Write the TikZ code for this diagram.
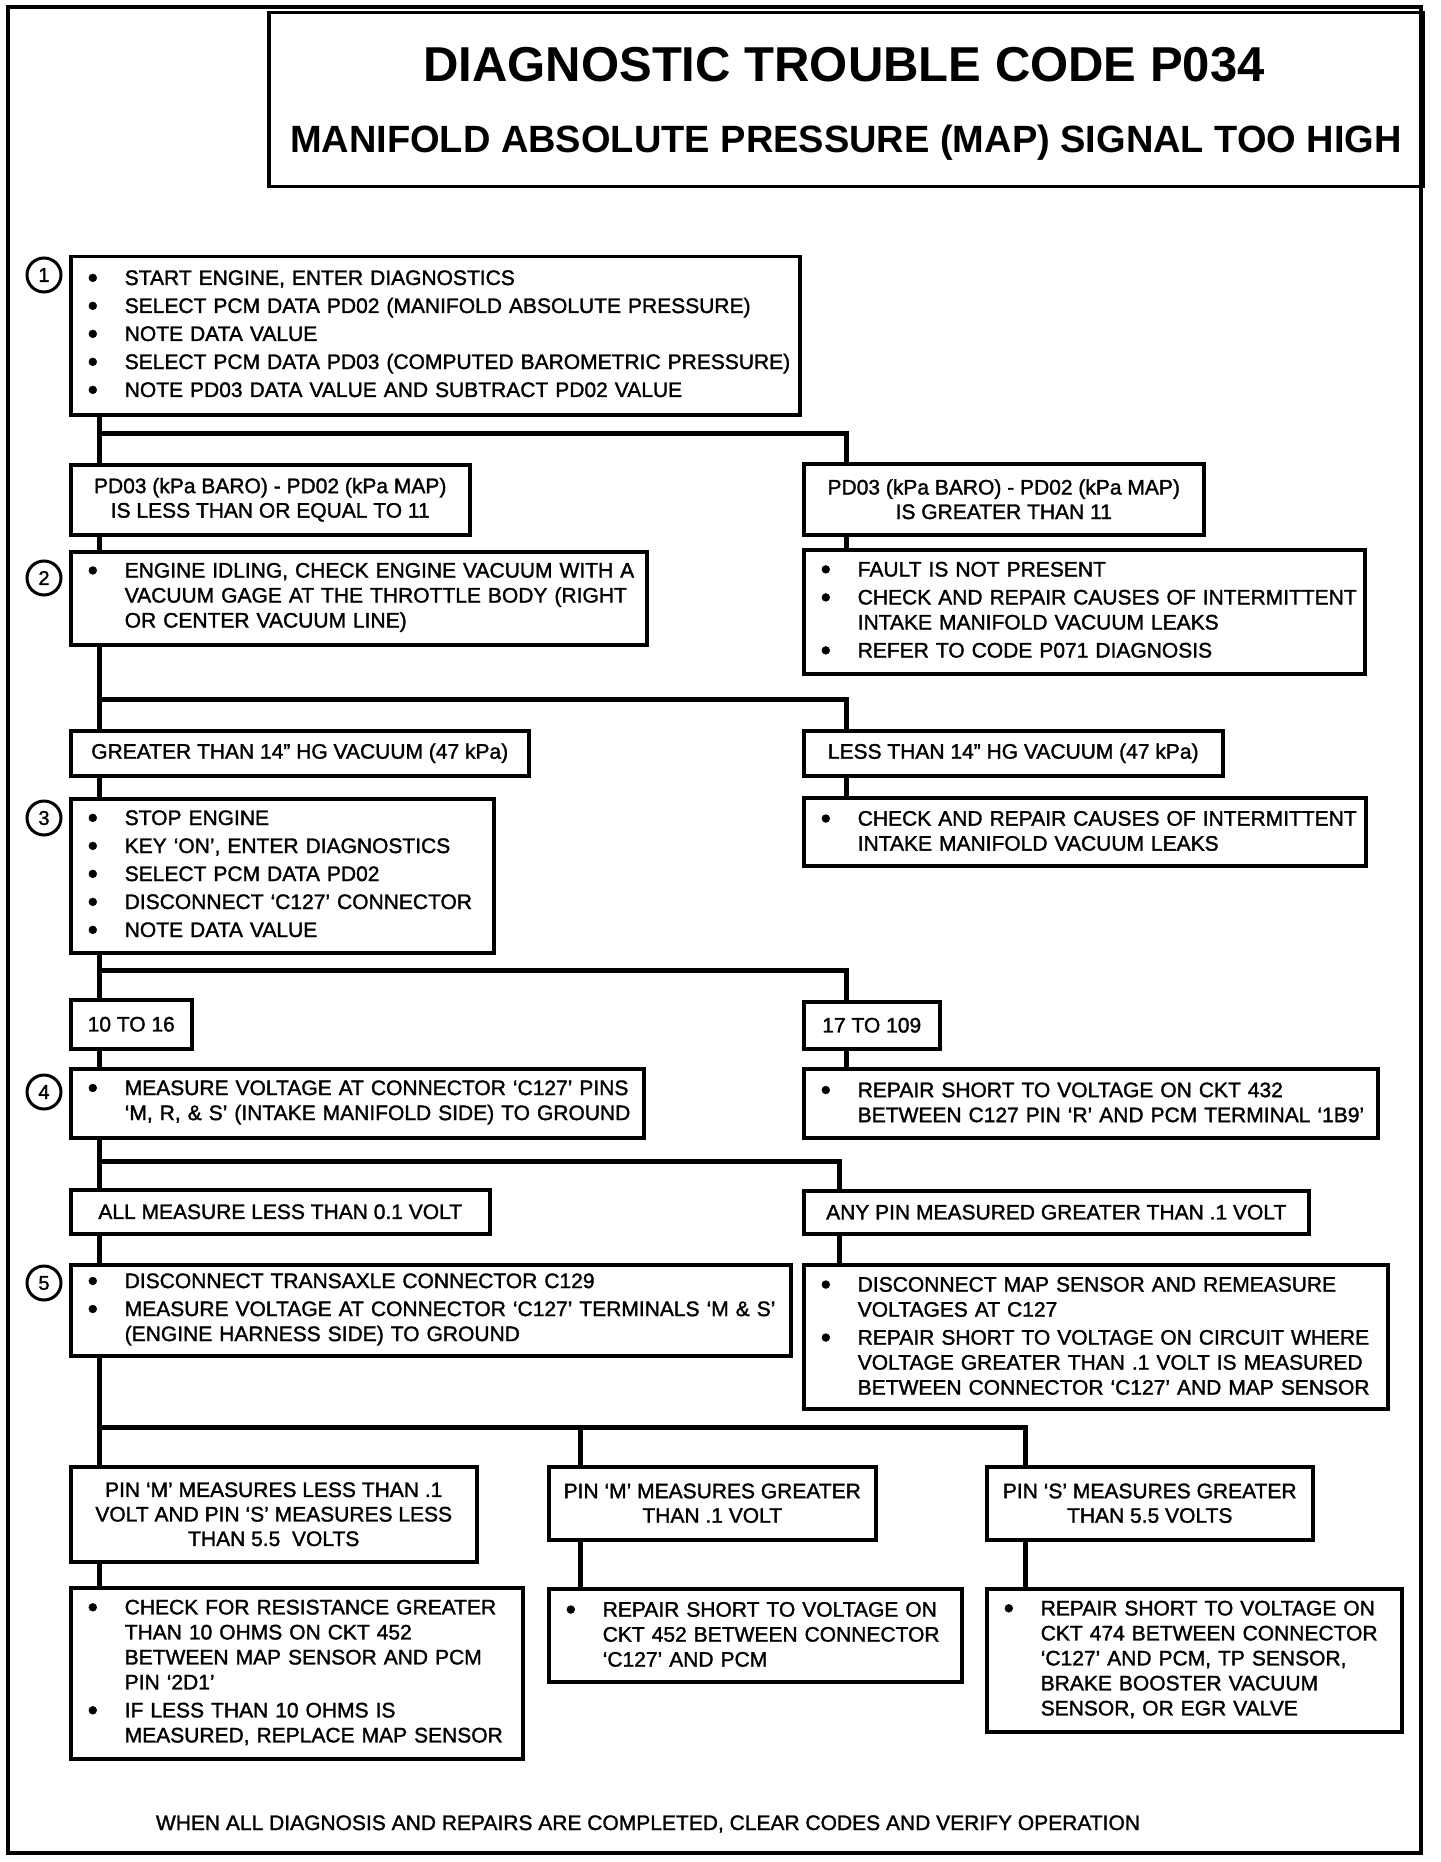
\documentclass[tikz,border=0pt]{standalone}
\usepackage{fontspec}
\setmainfont{Liberation Sans}[Ligatures=TeX]
\newfontfamily\bodyf{Liberation Sans}[Ligatures=TeX,FakeBold=1.5]
\newcommand{\bul}{\raisebox{-2.5pt}{\fontsize{29}{24}\selectfont\textbullet}}
\newcommand{\itm}[1]{\par\parskip=3pt\noindent\makebox[37pt][l]{\bul}\mbox{#1}}
\newcommand{\itl}[1]{\par\parskip=0pt\noindent\hspace*{37pt}\mbox{#1}}
\newcommand{\fin}{\endgraf\kern15pt}

\begin{document}
\begin{tikzpicture}[x=1pt,y=-1pt]%
  \tikzstyle{stepn}=[draw,line width=3.5pt,anchor=north west,inner xsep=17pt,inner ysep=-6pt,align=left,font=\bodyf\fontsize{21}{25}\selectfont,execute at end node=\fin]
  \tikzstyle{condn}=[draw,line width=3.5pt,anchor=north west,inner sep=0pt,align=center,font=\bodyf\fontsize{21}{24.5}\selectfont]
  \tikzstyle{cirn}=[circle,draw,line width=3pt,minimum size=34pt,inner sep=0pt,font=\bodyf\fontsize{20}{20}\selectfont]
  \tikzstyle{linen}=[line width=5pt]
  \useasboundingbox (0,0) rectangle (1440,1862);
  \draw[line width=3.5pt] (8,7) rectangle (1421,1853);
  % heading
  \node(title)[draw,line width=3.5pt,anchor=north west,minimum width=1154pt,minimum height=174pt] at (267,11) {};
  \node(hd1)[anchor=base,font=\fontsize{49}{49}\bfseries] at (844,82) {DIAGNOSTIC TROUBLE CODE P034};
  \node(hd2)[anchor=base,font=\fontsize{38}{38}\bfseries] at (846,153) {MANIFOLD ABSOLUTE PRESSURE (MAP) SIGNAL TOO HIGH};
  % step numbers
  \node(c1)[cirn] at (44,275) {1};
  \node(c2)[cirn] at (44,578) {2};
  \node(c3)[cirn] at (44,818) {3};
  \node(c4)[cirn] at (44,1092) {4};
  \node(c5)[cirn] at (44,1283) {5};
  % left column
  \node(s1)[stepn,minimum width=729pt,minimum height=158pt,text width=695pt] at (69,255) {%
    \itm{START ENGINE, ENTER DIAGNOSTICS}
    \itm{SELECT PCM DATA PD02 (MANIFOLD ABSOLUTE PRESSURE)}
    \itm{NOTE DATA VALUE}
    \itm{SELECT PCM DATA PD03 (COMPUTED BAROMETRIC PRESSURE)}
    \itm{NOTE PD03 DATA VALUE AND SUBTRACT PD02 VALUE}};
  \node(le11)[condn,minimum width=399pt,minimum height=70pt] at (69,463) {PD03 (kPa BARO) - PD02 (kPa MAP)\\IS LESS THAN OR EQUAL TO 11};
  \node(s2)[stepn,minimum width=576pt,minimum height=93pt,text width=542pt] at (69,550) {%
    \itm{ENGINE IDLING, CHECK ENGINE VACUUM WITH A}
    \itl{VACUUM GAGE AT THE THROTTLE BODY (RIGHT}
    \itl{OR CENTER VACUUM LINE)}};
  \node(hgG)[condn,minimum width=458pt,minimum height=45pt] at (69,729) {GREATER THAN 14'' HG VACUUM (47 kPa)};
  \node(s3)[stepn,minimum width=423pt,minimum height=154pt,text width=389pt] at (69,797) {%
    \itm{STOP ENGINE}
    \itm{KEY `ON', ENTER DIAGNOSTICS}
    \itm{SELECT PCM DATA PD02}
    \itm{DISCONNECT `C127' CONNECTOR}
    \itm{NOTE DATA VALUE}};
  \node(r1016)[condn,minimum width=121pt,minimum height=49pt] at (69,998) {10 TO 16};
  \node(s4)[stepn,minimum width=573pt,minimum height=69pt,text width=539pt] at (69,1067) {%
    \itm{MEASURE VOLTAGE AT CONNECTOR `C127' PINS}
    \itl{`M, R, \& S' (INTAKE MANIFOLD SIDE) TO GROUND}};
  \node(allL)[condn,minimum width=419pt,minimum height=44pt] at (69,1188) {ALL MEASURE LESS THAN 0.1 VOLT};
  \node(s5)[stepn,minimum width=720pt,minimum height=91pt,text width=686pt] at (69,1263) {%
    \itm{DISCONNECT TRANSAXLE CONNECTOR C129}
    \itm{MEASURE VOLTAGE AT CONNECTOR `C127' TERMINALS `M \& S'}
    \itl{(ENGINE HARNESS SIDE) TO GROUND}};
  % right column
  \node(gt11)[condn,minimum width=400pt,minimum height=71pt] at (802,462) {PD03 (kPa BARO) - PD02 (kPa MAP)\\IS GREATER THAN 11};
  \node(fault)[stepn,minimum width=561pt,minimum height=124pt,text width=527pt] at (802,548) {%
    \itm{FAULT IS NOT PRESENT}
    \itm{CHECK AND REPAIR CAUSES OF INTERMITTENT}
    \itl{INTAKE MANIFOLD VACUUM LEAKS}
    \itm{REFER TO CODE P071 DIAGNOSIS}};
  \node(hgL)[condn,minimum width=419pt,minimum height=45pt] at (802,729) {LESS THAN 14'' HG VACUUM (47 kPa)};
  \node(leaks)[stepn,minimum width=562pt,minimum height=68pt,text width=528pt] at (802,796) {%
    \itm{CHECK AND REPAIR CAUSES OF INTERMITTENT}
    \itl{INTAKE MANIFOLD VACUUM LEAKS}};
  \node(r17109)[condn,minimum width=136pt,minimum height=47pt] at (802,1000) {17 TO 109};
  \node(ckt432)[stepn,minimum width=574pt,minimum height=69pt,text width=540pt] at (802,1067) {%
    \itm{REPAIR SHORT TO VOLTAGE ON CKT 432}
    \itl{BETWEEN C127 PIN `R' AND PCM TERMINAL `1B9'}};
  \node(anyP)[condn,minimum width=505pt,minimum height=43pt] at (802,1189) {ANY PIN MEASURED GREATER THAN .1 VOLT};
  \node(mapS)[stepn,minimum width=584pt,minimum height=144pt,text width=550pt] at (802,1263) {%
    \itm{DISCONNECT MAP SENSOR AND REMEASURE}
    \itl{VOLTAGES AT C127}
    \itm{REPAIR SHORT TO VOLTAGE ON CIRCUIT WHERE}
    \itl{VOLTAGE GREATER THAN .1 VOLT IS MEASURED}
    \itl{BETWEEN CONNECTOR `C127' AND MAP SENSOR}};
  % bottom row
  \node(pinMl)[condn,minimum width=406pt,minimum height=95pt] at (69,1465) {PIN `M' MEASURES LESS THAN .1\\VOLT AND PIN `S' MEASURES LESS\\THAN 5.5~~VOLTS};
  \node(pinMg)[condn,minimum width=327pt,minimum height=73pt] at (547,1465) {PIN `M' MEASURES GREATER\\THAN .1 VOLT};
  \node(pinSg)[condn,minimum width=326pt,minimum height=73pt] at (985,1465) {PIN `S' MEASURES GREATER\\THAN 5.5 VOLTS};
  \node(ohms)[stepn,minimum width=452pt,minimum height=171pt,text width=418pt] at (69,1586) {%
    \itm{CHECK FOR RESISTANCE GREATER}
    \itl{THAN 10 OHMS ON CKT 452}
    \itl{BETWEEN MAP SENSOR AND PCM}
    \itl{PIN `2D1'}
    \itm{IF LESS THAN 10 OHMS IS}
    \itl{MEASURED, REPLACE MAP SENSOR}};
  \node(ckt452)[stepn,minimum width=413pt,minimum height=93pt,text width=379pt] at (547,1587) {%
    \itm{REPAIR SHORT TO VOLTAGE ON}
    \itl{CKT 452 BETWEEN CONNECTOR}
    \itl{`C127' AND PCM}};
  \node(ckt474)[stepn,minimum width=415pt,minimum height=143pt,text width=381pt] at (985,1587) {%
    \itm{REPAIR SHORT TO VOLTAGE ON}
    \itl{CKT 474 BETWEEN CONNECTOR}
    \itl{`C127' AND PCM, TP SENSOR,}
    \itl{BRAKE BOOSTER VACUUM}
    \itl{SENSOR, OR EGR VALVE}};
  \node(note)[anchor=base,font=\bodyf\fontsize{21}{24}\selectfont] at (648,1830) {WHEN ALL DIAGNOSIS AND REPAIRS ARE COMPLETED, CLEAR CODES AND VERIFY OPERATION};
  % connectors
  \coordinate(trunk) at (99,0);
  \coordinate(rb) at (846,0);
  \coordinate(rb4) at (839,0);
  \coordinate(mb) at (580,0);
  \coordinate(sb) at (1025,0);
  \coordinate(bar1) at (99,433);
  \coordinate(bar2) at (99,699);
  \coordinate(bar3) at (99,970);
  \coordinate(bar4) at (99,1161);
  \coordinate(bar5) at (99,1427);
  \draw[linen] (s1.south -| trunk) -- (le11.north -| trunk);
  \draw[linen] (le11.south -| trunk) -- (s2.north -| trunk);
  \draw[linen] (s2.south -| trunk) -- (hgG.north -| trunk);
  \draw[linen] (hgG.south -| trunk) -- (s3.north -| trunk);
  \draw[linen] (s3.south -| trunk) -- (r1016.north -| trunk);
  \draw[linen] (r1016.south -| trunk) -- (s4.north -| trunk);
  \draw[linen] (s4.south -| trunk) -- (allL.north -| trunk);
  \draw[linen] (allL.south -| trunk) -- (s5.north -| trunk);
  \draw[linen] (s5.south -| trunk) -- (pinMl.north -| trunk);
  \draw[linen] (pinMl.south -| trunk) -- (ohms.north -| trunk);
  \draw[linen] (bar1) -| (gt11.north -| rb);
  \draw[linen] (gt11.south -| rb) -- (fault.north -| rb);
  \draw[linen] (bar2) -| (hgL.north -| rb);
  \draw[linen] (hgL.south -| rb) -- (leaks.north -| rb);
  \draw[linen] (bar3) -| (r17109.north -| rb);
  \draw[linen] (r17109.south -| rb) -- (ckt432.north -| rb);
  \draw[linen] (bar4) -| (anyP.north -| rb4);
  \draw[linen] (anyP.south -| rb4) -- (mapS.north -| rb4);
  \draw[linen] (bar5) -| (pinSg.north -| sb);
  \draw[linen] (bar5 -| mb) -- (pinMg.north -| mb);
  \draw[linen] (pinMg.south -| mb) -- (ckt452.north -| mb);
  \draw[linen] (pinSg.south -| sb) -- (ckt474.north -| sb);
\end{tikzpicture}
\end{document}
